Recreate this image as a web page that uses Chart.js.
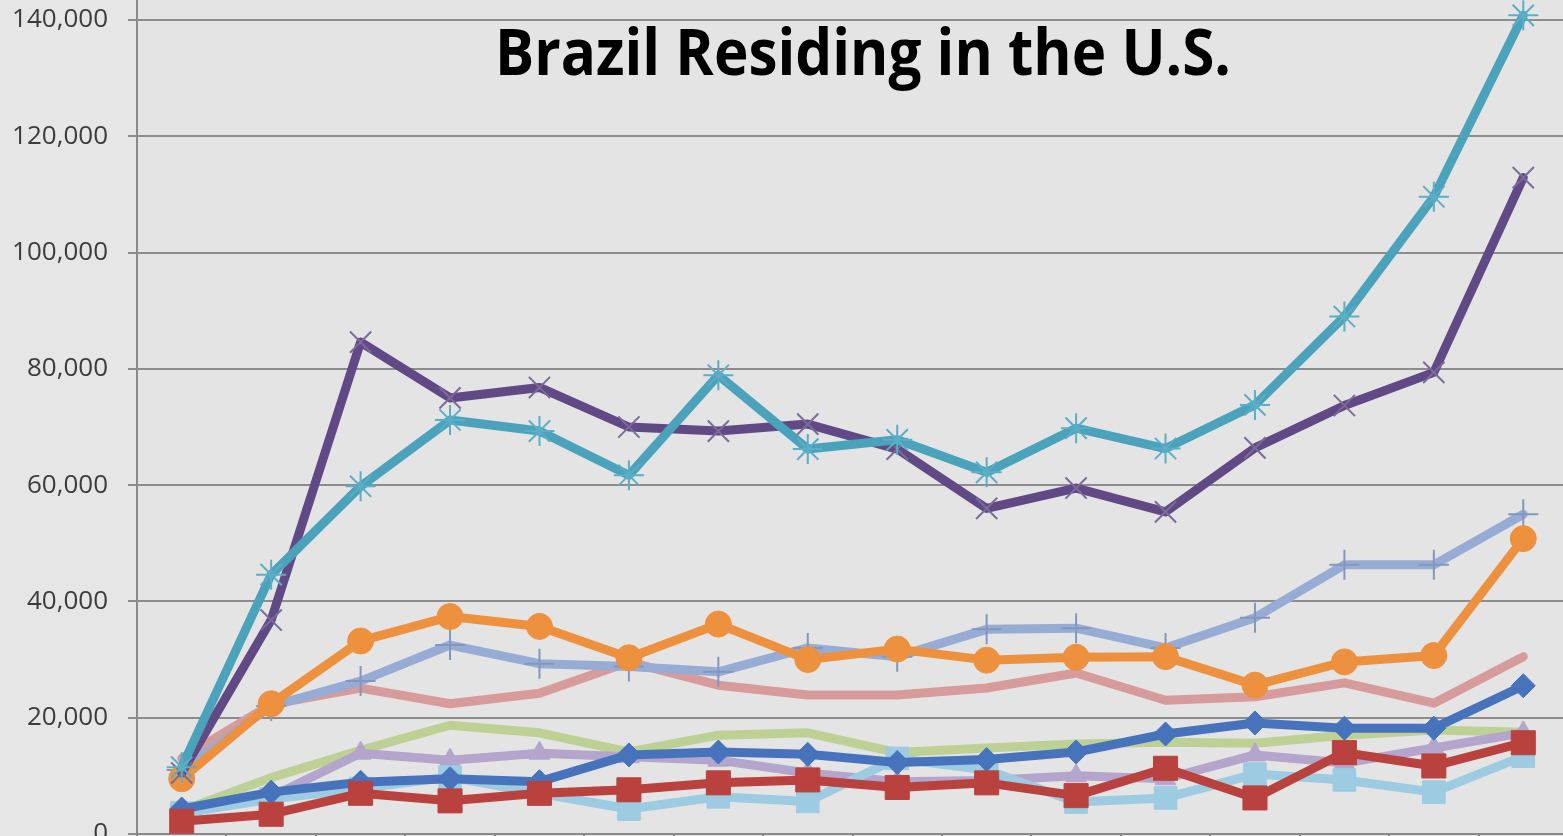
<!DOCTYPE html>
<html><head><meta charset="utf-8">
<script src="https://cdn.jsdelivr.net/npm/chart.js@4.4.0/dist/chart.umd.min.js"></script>
<style>
html,body{margin:0;padding:0;background:#e6e6e6;overflow:hidden;width:1563px;height:836px}
#c{position:absolute;left:0;top:0;width:1568px;height:846px}
</style></head><body>
<canvas id="c" width="1568" height="846"></canvas>
<script>
// ---- data ----
const categories = ["1","2","3","4","5","6","7","8","9","10","11","12","13","14","15","16"];
const yTickValues = [0,20000,40000,60000,80000,100000,120000,140000];
const titleText = "Brazil Residing in the U.S.";

const seriesBlue       = [4300, 7200, 8900, 9500, 9000, 13600, 14100, 13700, 12300, 12800, 14100, 17200, 19100, 18200, 18200, 25500];
const seriesRed        = [2200, 3400, 7000, 5700, 7000, 7600, 8800, 9300, 8000, 8800, 6600, 11300, 6200, 14000, 11700, 15700];
const seriesLightGreen = [4000, 9700, 14400, 18700, 17400, 14100, 17000, 17400, 14000, 14800, 15500, 15800, 15600, 17000, 17900, 17500];
const seriesPurple     = [10500, 36800, 84600, 75000, 76800, 70000, 69300, 70500, 66200, 56000, 59500, 55400, 66400, 73700, 79400, 112900];
const seriesTeal       = [11500, 44600, 59800, 71200, 69300, 61700, 78900, 66200, 67800, 62200, 69800, 66300, 73800, 89000, 109600, 140800];
const seriesOrange     = [9500, 22400, 33200, 37400, 35700, 30300, 36100, 30000, 31800, 29900, 30400, 30500, 25600, 29600, 30700, 50800];
const seriesSteel      = [11000, 22000, 26300, 32500, 29300, 28800, 27900, 32000, 30500, 35200, 35400, 32000, 37200, 46300, 46300, 55000];
const seriesPink       = [13000, 22300, 25100, 22400, 24200, 29600, 25600, 23900, 23900, 25100, 27700, 23000, 23600, 26000, 22500, 30500];
const seriesLightPurple= [3500, 6400, 13900, 12700, 13900, 13300, 12700, 10500, 9000, 9200, 10000, 9500, 13600, 12200, 14800, 17400];
const seriesLightSky   = [3600, 6000, 7800, 9800, 7000, 4300, 6400, 5600, 13000, 11000, 5500, 6200, 10300, 9300, 7200, 13400];

function ds(label, data, color, style, radius, order, markerColor, markerBorder) {
  return {
    label, data, order,
    borderColor: color, backgroundColor: color,
    borderWidth: 9, tension: 0,
    borderJoinStyle: 'round', borderCapStyle: 'round',
    pointStyle: style || 'circle',
    pointRadius: radius, pointHoverRadius: radius,
    pointBackgroundColor: markerColor || color,
    pointBorderColor: markerColor || color,
    pointBorderWidth: markerBorder || 1,
    clip: false
  };
}

const bgPlugin = {
  id: 'bg',
  beforeDraw(chart) {
    const {ctx, chartArea:a} = chart;
    ctx.save();
    ctx.fillStyle = '#e6e6e6';
    ctx.fillRect(0, 0, chart.width, chart.height);
    ctx.fillStyle = '#e4e4e4';
    ctx.fillRect(a.left, a.top, a.right - a.left, a.bottom - a.top);
    ctx.restore();
  },
  afterDraw(chart) {
    const ctx = chart.ctx;
    ctx.save();
    ctx.fillStyle = '#000000';
    ctx.font = 'bold 64px "Open Sans"';
    ctx.textAlign = 'center';
    ctx.textBaseline = 'alphabetic';
    ctx.fillText(titleText, 863, 75, 736);
    ctx.restore();
  }
};

new Chart(document.getElementById('c'), {
  type: 'line',
  data: {
    labels: categories,
    datasets: [
      ds('Series 2', seriesRed, '#b9423f', 'rect', 17, 0),
      ds('Series 1', seriesBlue, '#4673bb', 'rectRot', 12, 1),
      ds('Series 5', seriesTeal, '#4aa2bb', 'star', 15, 2, '#5aaec6', 2),
      ds('Series 4', seriesPurple, '#614985', 'crossRot', 15, 3, '#7b6b98', 2),
      ds('Series 6', seriesOrange, '#ee913f', 'circle', 13, 4),
      ds('Series 7', seriesSteel, '#97acd5', 'cross', 15, 5, '#8397bd', 2),
      ds('Series 8', seriesPink, '#d69b9a', 'circle', 0, 6),
      ds('Series 10', seriesLightSky, '#9ccbe2', 'rect', 16, 7),
      ds('Series 9', seriesLightPurple, '#b4a5cd', 'triangle', 12, 8),
      ds('Series 3', seriesLightGreen, '#bcd193', 'circle', 0, 9)
    ]
  },
  options: {
    responsive: false,
    animation: false,
    devicePixelRatio: 1,
    layout: { padding: 0, autoPadding: false },
    plugins: { legend: { display: false }, title: { display: false }, tooltip: { enabled: false } },
    scales: {
      x: {
        offset: true,
        afterFit(s) { s.height = 12; s.paddingLeft = 0; s.paddingRight = 0; },
        ticks: { display: false },
        grid: { drawOnChartArea: false, drawTicks: true, tickLength: 8, offset: true, color: '#7f7f7f', lineWidth: 2 },
        border: { display: true, color: '#8a8a8a', width: 2 }
      },
      y: {
        min: 0,
        max: 143440,
        afterFit(s) { s.width = 137; s.paddingTop = 0; s.paddingBottom = 0; },
        afterBuildTicks(s) { s.ticks = yTickValues.map(v => ({ value: v })); },
        ticks: {
          padding: 20,
          color: '#3c3c3c',
          font: { family: '"Open Sans"', size: 26 },
          callback: v => v.toLocaleString('en-US')
        },
        grid: { color: '#8c8c8c', lineWidth: 2, tickLength: 9 },
        border: { display: true, color: '#8a8a8a', width: 2 }
      }
    }
  },
  plugins: [bgPlugin]
});
</script>
</body></html>
